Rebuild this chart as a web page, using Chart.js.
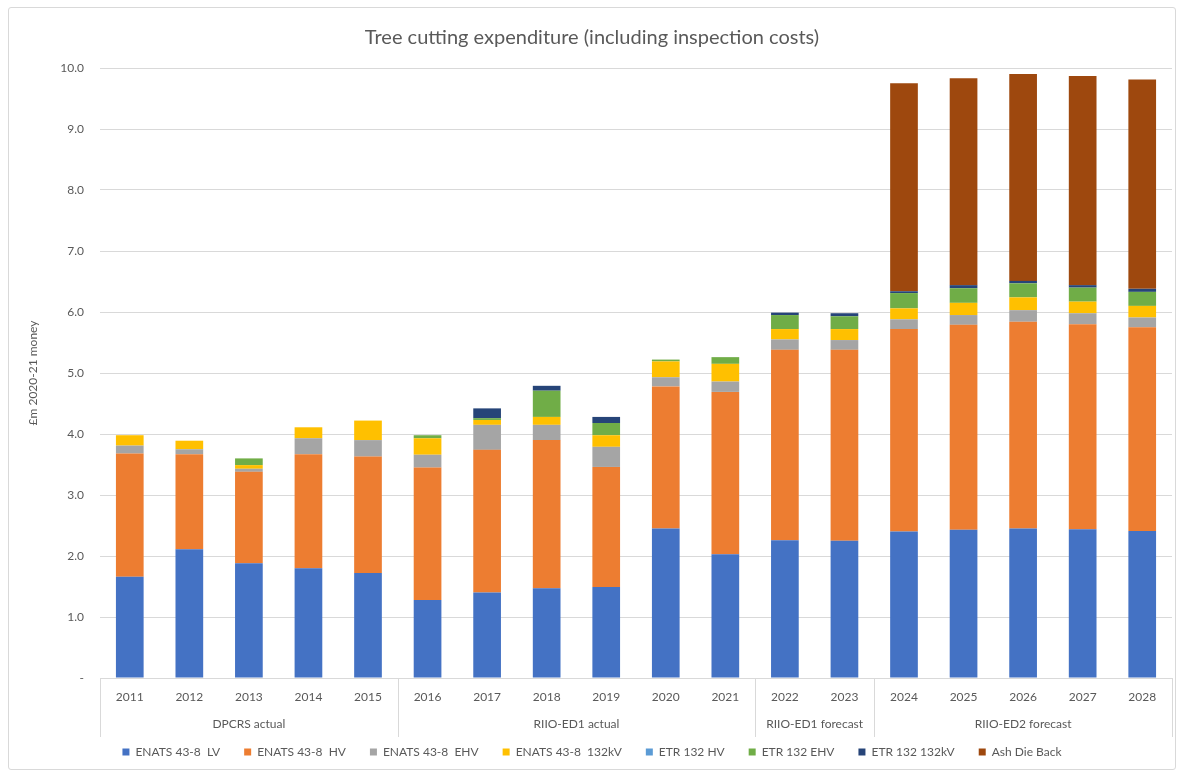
<!DOCTYPE html>
<html>
<head>
<meta charset="utf-8">
<script src="https://cdn.jsdelivr.net/npm/chart.js@4.4.1/dist/chart.umd.min.js"></script>
<style>
  html, body { margin: 0; padding: 0; background: #fff; }
  #wrap { position: relative; width: 1184px; height: 776px; }
  #frame { position: absolute; left: 8px; top: 7px; width: 1168px; height: 763px;
           border: 1px solid #d9d9d9; border-radius: 3px; box-sizing: border-box; }
  canvas { position: absolute; left: 0; top: 0; }
</style>
</head>
<body>
<div id="wrap">
  <div id="frame"></div>
  <canvas id="chart" width="1184" height="776"></canvas>
</div>
<script>
// Years on the category axis and the regulatory periods they fall into
const years = ['2011','2012','2013','2014','2015','2016','2017','2018','2019','2020','2021','2022','2023','2024','2025','2026','2027','2028'];
const periodNames = ['DPCRS actual', 'RIIO-ED1 actual', 'RIIO-ED1 forecast', 'RIIO-ED2 forecast'];
const periodLengths = [5, 6, 2, 5];

// Expenditure by category, £m 2020-21 money
const enatsLV    = [1.66, 2.11, 1.88, 1.80, 1.72, 1.28, 1.40, 1.47, 1.49, 2.45, 2.03, 2.26, 2.25, 2.40, 2.43, 2.45, 2.44, 2.41];
const enatsHV    = [2.02, 1.56, 1.50, 1.87, 1.91, 2.17, 2.34, 2.43, 1.97, 2.33, 2.66, 3.12, 3.13, 3.32, 3.36, 3.39, 3.36, 3.34];
const enatsEHV   = [0.13, 0.08, 0.05, 0.26, 0.27, 0.21, 0.41, 0.25, 0.33, 0.15, 0.17, 0.17, 0.16, 0.16, 0.16, 0.19, 0.18, 0.16];
const enats132kV = [0.17, 0.14, 0.06, 0.18, 0.32, 0.27, 0.08, 0.13, 0.19, 0.26, 0.29, 0.17, 0.18, 0.18, 0.20, 0.21, 0.19, 0.19];
const etrHV      = [0, 0, 0, 0, 0, 0, 0, 0, 0, 0, 0, 0, 0, 0, 0, 0, 0, 0];
const etrEHV     = [0, 0, 0.11, 0, 0, 0.05, 0.03, 0.43, 0.20, 0.03, 0.11, 0.23, 0.21, 0.25, 0.24, 0.23, 0.23, 0.23];
const etr132kV   = [0, 0, 0, 0, 0, 0, 0.16, 0.08, 0.10, 0, 0, 0.04, 0.05, 0.03, 0.05, 0.04, 0.04, 0.05];
const ashDieBack = [0, 0, 0, 0, 0, 0, 0, 0, 0, 0, 0, 0, 0, 3.41, 3.39, 3.39, 3.43, 3.43];

const textColor = '#595959';
const gridColor = '#d9d9d9';

// Second tier of the category axis: period names and their separators
const periodAxis = {
  id: 'periodAxis',
  afterDraw(chart) {
    const { ctx, chartArea, scales: { x } } = chart;
    const half = (x.getPixelForValue(1) - x.getPixelForValue(0)) / 2;
    const edges = [];
    ctx.save();
    ctx.font = '12px Lato';
    ctx.fillStyle = textColor;
    ctx.textAlign = 'center';
    ctx.textBaseline = 'middle';
    let start = 0;
    periodLengths.forEach((n, i) => {
      const left = x.getPixelForValue(start) - half;
      const right = x.getPixelForValue(start + n - 1) + half;
      ctx.fillText(periodNames[i], (left + right) / 2, chartArea.bottom + 46);
      edges.push(left);
      if (i === periodLengths.length - 1) edges.push(right);
      start += n;
    });
    ctx.strokeStyle = gridColor;
    ctx.lineWidth = 1;
    edges.forEach(e => {
      const px = Math.round(e) + 0.5;
      ctx.beginPath();
      ctx.moveTo(px, chartArea.bottom);
      ctx.lineTo(px, chartArea.bottom + 59);
      ctx.stroke();
    });
    ctx.restore();
  }
};

const series = [
  ['ENATS 43-8  LV', enatsLV, '#4472C4'],
  ['ENATS 43-8  HV', enatsHV, '#ED7D31'],
  ['ENATS 43-8  EHV', enatsEHV, '#A5A5A5'],
  ['ENATS 43-8  132kV', enats132kV, '#FFC000'],
  ['ETR 132 HV', etrHV, '#5B9BD5'],
  ['ETR 132 EHV', etrEHV, '#70AD47'],
  ['ETR 132 132kV', etr132kV, '#264478'],
  ['Ash Die Back', ashDieBack, '#9E480E']
];

Chart.defaults.font.family = 'Lato';
Chart.defaults.color = textColor;

new Chart(document.getElementById('chart'), {
  type: 'bar',
  data: {
    labels: years,
    datasets: series.map(([label, data, color]) => ({
      label, data,
      backgroundColor: color,
      borderWidth: 0,
      categoryPercentage: 1,
      barPercentage: 0.465
    }))
  },
  plugins: [periodAxis],
  options: {
    responsive: false,
    animation: false,
    devicePixelRatio: 1,
    layout: { padding: { left: 12, right: 12, top: 8, bottom: 8 } },
    plugins: {
      title: {
        display: true,
        text: 'Tree cutting expenditure (including inspection costs)',
        color: textColor,
        font: { size: 20, weight: 'normal' },
        padding: { top: 18, bottom: 18 }
      },
      legend: {
        position: 'bottom',
        labels: {
          boxWidth: 7,
          boxHeight: 7,
          padding: 24,
          color: textColor,
          font: { size: 12 }
        }
      },
      tooltip: { enabled: false }
    },
    scales: {
      x: {
        stacked: true,
        grid: { display: false, drawTicks: false },
        border: { display: false },
        ticks: { padding: 12, font: { size: 12 }, color: textColor, maxRotation: 0 },
        afterFit(scale) { scale.height = 44; }
      },
      y: {
        stacked: true,
        min: 0,
        max: 10,
        grid: { color: gridColor, drawTicks: false },
        border: { display: false },
        ticks: {
          stepSize: 1,
          padding: 16,
          font: { size: 12 },
          color: textColor,
          callback: v => v === 0 ? '-' : v.toFixed(1)
        },
        title: {
          display: true,
          text: '£m 2020-21 money',
          color: textColor,
          font: { size: 12 },
          padding: { top: 14, bottom: 0 }
        },
        afterFit(scale) { scale.width = 88; }
      }
    }
  }
});
</script>
</body>
</html>
